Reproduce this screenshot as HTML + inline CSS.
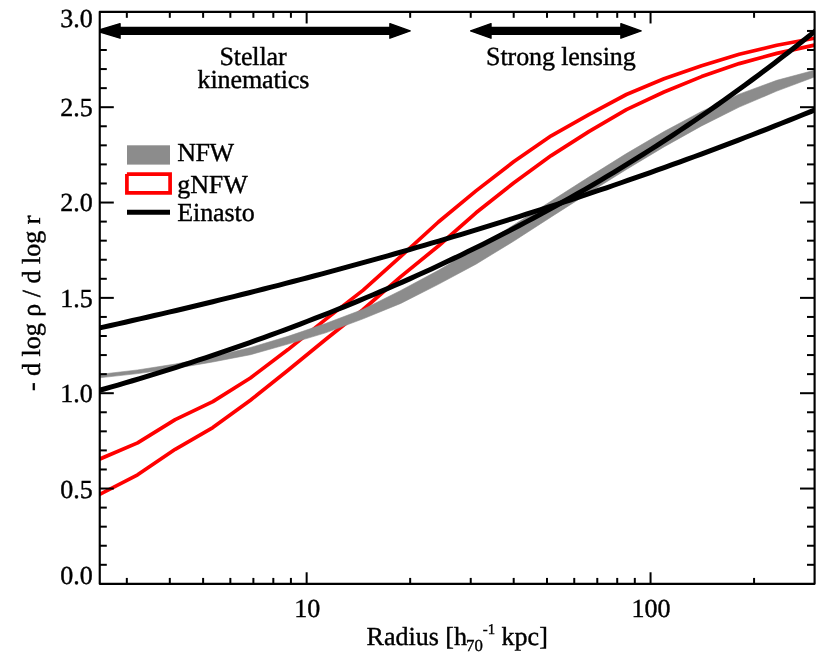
<!DOCTYPE html>
<html><head><meta charset="utf-8"><title>Density slope</title>
<style>html,body{margin:0;padding:0;background:#fff;}svg{display:block;will-change:transform;}text{font-family:"Liberation Serif",serif;font-size:26px;fill:#000;stroke:#000;stroke-width:0.4px;text-rendering:geometricPrecision;}</style></head><body>
<svg width="830" height="664" viewBox="0 0 830 664">
<rect width="830" height="664" fill="#fff"/>
<defs><clipPath id="c"><rect x="99.75" y="11.87" width="714.85" height="572"/></clipPath></defs>
<g clip-path="url(#c)" fill="none" stroke-linejoin="round">
<polyline points="98.00,459.80 137.60,442.90 175.20,419.60 212.80,401.60 250.40,378.00 288.00,349.60 325.60,319.40 363.20,290.10 400.80,256.40 438.40,222.00 476.00,190.90 513.60,161.80 551.20,135.80 588.80,114.60 626.40,94.50 664.00,78.70 701.60,65.80 739.20,54.30 776.80,45.20 814.40,38.20" stroke="#ff0000" stroke-width="3.7"/>
<polyline points="98.00,495.30 137.60,474.80 175.20,449.30 212.80,427.60 250.40,400.20 288.00,370.30 325.60,339.50 363.20,309.50 400.80,276.60 438.40,246.00 476.00,212.80 513.60,183.00 551.20,155.60 588.80,131.60 626.40,109.60 664.00,92.00 701.60,76.60 739.20,63.60 776.80,53.40 814.40,45.10" stroke="#ff0000" stroke-width="3.7"/>
<polygon points="98.00,374.60 137.60,369.94 175.20,364.08 212.80,356.69 250.40,347.56 288.00,336.33 325.60,323.51 363.20,309.30 400.80,290.48 438.40,270.33 476.00,248.40 513.60,225.10 551.20,201.09 588.80,177.05 626.40,153.60 664.00,131.57 701.60,111.44 739.20,94.14 776.80,80.32 814.40,70.24 816.00,69.87 816.00,76.45 814.40,77.00 776.80,91.08 739.20,107.12 701.60,125.88 664.00,146.88 626.40,169.45 588.80,192.92 551.20,216.91 513.60,241.22 476.00,264.13 438.40,284.32 400.80,303.40 363.20,318.81 325.60,332.85 288.00,344.10 250.40,354.71 212.80,361.97 175.20,368.42 137.60,373.62 98.00,377.97" fill="#8c8c8c" stroke="#8c8c8c" stroke-width="0.6"/>
<polyline points="96.00,328.70 103.29,327.10 110.59,325.48 117.88,323.85 125.17,322.21 132.46,320.56 139.76,318.90 147.05,317.23 154.34,315.55 161.64,313.86 168.93,312.16 176.22,310.45 183.52,308.72 190.81,306.99 198.10,305.24 205.39,303.49 212.69,301.72 219.98,299.94 227.27,298.15 234.57,296.35 241.86,294.54 249.15,292.72 256.44,290.88 263.74,289.03 271.03,287.18 278.32,285.31 285.62,283.42 292.91,281.53 300.20,279.63 307.49,277.71 314.79,275.78 322.08,273.84 329.37,271.88 336.67,269.92 343.96,267.94 351.25,265.95 358.55,263.94 365.84,261.93 373.13,259.90 380.42,257.86 387.72,255.80 395.01,253.73 402.30,251.65 409.60,249.56 416.89,247.45 424.18,245.33 431.47,243.20 438.77,241.05 446.06,238.89 453.35,236.72 460.65,234.53 467.94,232.33 475.23,230.11 482.53,227.88 489.82,225.64 497.11,223.38 504.40,221.11 511.70,218.82 518.99,216.52 526.28,214.21 533.58,211.88 540.87,209.53 548.16,207.18 555.45,204.80 562.75,202.41 570.04,200.01 577.33,197.59 584.63,195.16 591.92,192.71 599.21,190.24 606.51,187.76 613.80,185.26 621.09,182.75 628.38,180.22 635.68,177.68 642.97,175.12 650.26,172.54 657.56,169.95 664.85,167.34 672.14,164.72 679.43,162.08 686.73,159.42 694.02,156.75 701.31,154.05 708.61,151.34 715.90,148.62 723.19,145.88 730.48,143.12 737.78,140.34 745.07,137.54 752.36,134.73 759.66,131.90 766.95,129.05 774.24,126.19 781.54,123.30 788.83,120.40 796.12,117.48 803.41,114.54 810.71,111.58 818.00,108.61" stroke="#000" stroke-width="5.0"/>
<polyline points="96.00,391.31 103.29,389.24 110.59,387.15 117.88,385.03 125.17,382.89 132.46,380.73 139.76,378.55 147.05,376.34 154.34,374.11 161.64,371.85 168.93,369.57 176.22,367.27 183.52,364.94 190.81,362.58 198.10,360.20 205.39,357.79 212.69,355.36 219.98,352.91 227.27,350.42 234.57,347.91 241.86,345.37 249.15,342.81 256.44,340.22 263.74,337.60 271.03,334.95 278.32,332.27 285.62,329.56 292.91,326.83 300.20,324.06 307.49,321.27 314.79,318.45 322.08,315.59 329.37,312.71 336.67,309.79 343.96,306.84 351.25,303.86 358.55,300.85 365.84,297.81 373.13,294.73 380.42,291.62 387.72,288.48 395.01,285.30 402.30,282.09 409.60,278.85 416.89,275.57 424.18,272.25 431.47,268.90 438.77,265.51 446.06,262.09 453.35,258.63 460.65,255.13 467.94,251.60 475.23,248.02 482.53,244.41 489.82,240.76 497.11,237.07 504.40,233.34 511.70,229.57 518.99,225.77 526.28,221.91 533.58,218.02 540.87,214.09 548.16,210.11 555.45,206.09 562.75,202.03 570.04,197.93 577.33,193.78 584.63,189.58 591.92,185.34 599.21,181.06 606.51,176.72 613.80,172.35 621.09,167.92 628.38,163.45 635.68,158.93 642.97,154.36 650.26,149.74 657.56,145.07 664.85,140.35 672.14,135.59 679.43,130.77 686.73,125.89 694.02,120.97 701.31,115.99 708.61,110.96 715.90,105.88 723.19,100.74 730.48,95.54 737.78,90.29 745.07,84.99 752.36,79.62 759.66,74.20 766.95,68.72 774.24,63.18 781.54,57.58 788.83,51.92 796.12,46.21 803.41,40.42 810.71,34.58 818.00,28.68" stroke="#000" stroke-width="5.0"/>
</g>
<defs><clipPath id="ca"><rect x="99.75" y="0" width="730" height="60"/></clipPath></defs>
<g clip-path="url(#ca)"><path d="M96.10,30.90 L120.05,23.60 L120.05,27.40 L389.90,27.40 L389.90,23.60 L410.15,30.90 L389.90,38.20 L389.90,34.40 L120.05,34.40 L120.05,38.20 Z" fill="#000" stroke="#000" stroke-width="1.4" stroke-linejoin="round"/><path d="M470.60,30.90 L491.00,23.60 L491.00,27.40 L620.90,27.40 L620.90,23.60 L641.10,30.90 L620.90,38.20 L620.90,34.40 L491.00,34.40 L491.00,38.20 Z" fill="#000" stroke="#000" stroke-width="1.4" stroke-linejoin="round"/></g>
<g stroke="#000" stroke-width="2.0" fill="none" stroke-linecap="butt">
<rect x="99.75" y="11.87" width="714.85" height="572.0" stroke-width="2.15" stroke-linejoin="round"/>
<line x1="126.83" y1="583.87" x2="126.83" y2="577.92"/>
<line x1="126.83" y1="11.87" x2="126.83" y2="17.82"/>
<line x1="169.80" y1="583.87" x2="169.80" y2="577.92"/>
<line x1="169.80" y1="11.87" x2="169.80" y2="17.82"/>
<line x1="203.12" y1="583.87" x2="203.12" y2="577.92"/>
<line x1="203.12" y1="11.87" x2="203.12" y2="17.82"/>
<line x1="230.35" y1="583.87" x2="230.35" y2="577.92"/>
<line x1="230.35" y1="11.87" x2="230.35" y2="17.82"/>
<line x1="253.38" y1="583.87" x2="253.38" y2="577.92"/>
<line x1="253.38" y1="11.87" x2="253.38" y2="17.82"/>
<line x1="273.32" y1="583.87" x2="273.32" y2="577.92"/>
<line x1="273.32" y1="11.87" x2="273.32" y2="17.82"/>
<line x1="290.91" y1="583.87" x2="290.91" y2="577.92"/>
<line x1="290.91" y1="11.87" x2="290.91" y2="17.82"/>
<line x1="306.65" y1="583.87" x2="306.65" y2="572.27"/>
<line x1="306.65" y1="11.87" x2="306.65" y2="23.47"/>
<line x1="410.17" y1="583.87" x2="410.17" y2="577.92"/>
<line x1="410.17" y1="11.87" x2="410.17" y2="17.82"/>
<line x1="470.73" y1="583.87" x2="470.73" y2="577.92"/>
<line x1="470.73" y1="11.87" x2="470.73" y2="17.82"/>
<line x1="513.70" y1="583.87" x2="513.70" y2="577.92"/>
<line x1="513.70" y1="11.87" x2="513.70" y2="17.82"/>
<line x1="547.02" y1="583.87" x2="547.02" y2="577.92"/>
<line x1="547.02" y1="11.87" x2="547.02" y2="17.82"/>
<line x1="574.25" y1="583.87" x2="574.25" y2="577.92"/>
<line x1="574.25" y1="11.87" x2="574.25" y2="17.82"/>
<line x1="597.28" y1="583.87" x2="597.28" y2="577.92"/>
<line x1="597.28" y1="11.87" x2="597.28" y2="17.82"/>
<line x1="617.22" y1="583.87" x2="617.22" y2="577.92"/>
<line x1="617.22" y1="11.87" x2="617.22" y2="17.82"/>
<line x1="634.81" y1="583.87" x2="634.81" y2="577.92"/>
<line x1="634.81" y1="11.87" x2="634.81" y2="17.82"/>
<line x1="650.55" y1="583.87" x2="650.55" y2="572.27"/>
<line x1="650.55" y1="11.87" x2="650.55" y2="23.47"/>
<line x1="754.07" y1="583.87" x2="754.07" y2="577.92"/>
<line x1="754.07" y1="11.87" x2="754.07" y2="17.82"/>
<line x1="99.75" y1="564.80" x2="106.8" y2="564.80"/>
<line x1="814.6" y1="564.80" x2="807.0" y2="564.80"/>
<line x1="99.75" y1="545.74" x2="106.8" y2="545.74"/>
<line x1="814.6" y1="545.74" x2="807.0" y2="545.74"/>
<line x1="99.75" y1="526.67" x2="106.8" y2="526.67"/>
<line x1="814.6" y1="526.67" x2="807.0" y2="526.67"/>
<line x1="99.75" y1="507.60" x2="106.8" y2="507.60"/>
<line x1="814.6" y1="507.60" x2="807.0" y2="507.60"/>
<line x1="99.75" y1="488.54" x2="113.8" y2="488.54"/>
<line x1="814.6" y1="488.54" x2="800.0" y2="488.54"/>
<line x1="99.75" y1="469.47" x2="106.8" y2="469.47"/>
<line x1="814.6" y1="469.47" x2="807.0" y2="469.47"/>
<line x1="99.75" y1="450.40" x2="106.8" y2="450.40"/>
<line x1="814.6" y1="450.40" x2="807.0" y2="450.40"/>
<line x1="99.75" y1="431.34" x2="106.8" y2="431.34"/>
<line x1="814.6" y1="431.34" x2="807.0" y2="431.34"/>
<line x1="99.75" y1="412.27" x2="106.8" y2="412.27"/>
<line x1="814.6" y1="412.27" x2="807.0" y2="412.27"/>
<line x1="99.75" y1="393.20" x2="113.8" y2="393.20"/>
<line x1="814.6" y1="393.20" x2="800.0" y2="393.20"/>
<line x1="99.75" y1="374.14" x2="106.8" y2="374.14"/>
<line x1="814.6" y1="374.14" x2="807.0" y2="374.14"/>
<line x1="99.75" y1="355.07" x2="106.8" y2="355.07"/>
<line x1="814.6" y1="355.07" x2="807.0" y2="355.07"/>
<line x1="99.75" y1="336.00" x2="106.8" y2="336.00"/>
<line x1="814.6" y1="336.00" x2="807.0" y2="336.00"/>
<line x1="99.75" y1="316.94" x2="106.8" y2="316.94"/>
<line x1="814.6" y1="316.94" x2="807.0" y2="316.94"/>
<line x1="99.75" y1="297.87" x2="113.8" y2="297.87"/>
<line x1="814.6" y1="297.87" x2="800.0" y2="297.87"/>
<line x1="99.75" y1="278.80" x2="106.8" y2="278.80"/>
<line x1="814.6" y1="278.80" x2="807.0" y2="278.80"/>
<line x1="99.75" y1="259.74" x2="106.8" y2="259.74"/>
<line x1="814.6" y1="259.74" x2="807.0" y2="259.74"/>
<line x1="99.75" y1="240.67" x2="106.8" y2="240.67"/>
<line x1="814.6" y1="240.67" x2="807.0" y2="240.67"/>
<line x1="99.75" y1="221.60" x2="106.8" y2="221.60"/>
<line x1="814.6" y1="221.60" x2="807.0" y2="221.60"/>
<line x1="99.75" y1="202.54" x2="113.8" y2="202.54"/>
<line x1="814.6" y1="202.54" x2="800.0" y2="202.54"/>
<line x1="99.75" y1="183.47" x2="106.8" y2="183.47"/>
<line x1="814.6" y1="183.47" x2="807.0" y2="183.47"/>
<line x1="99.75" y1="164.40" x2="106.8" y2="164.40"/>
<line x1="814.6" y1="164.40" x2="807.0" y2="164.40"/>
<line x1="99.75" y1="145.34" x2="106.8" y2="145.34"/>
<line x1="814.6" y1="145.34" x2="807.0" y2="145.34"/>
<line x1="99.75" y1="126.27" x2="106.8" y2="126.27"/>
<line x1="814.6" y1="126.27" x2="807.0" y2="126.27"/>
<line x1="99.75" y1="107.20" x2="113.8" y2="107.20"/>
<line x1="814.6" y1="107.20" x2="800.0" y2="107.20"/>
<line x1="99.75" y1="88.14" x2="106.8" y2="88.14"/>
<line x1="814.6" y1="88.14" x2="807.0" y2="88.14"/>
<line x1="99.75" y1="69.07" x2="106.8" y2="69.07"/>
<line x1="814.6" y1="69.07" x2="807.0" y2="69.07"/>
<line x1="99.75" y1="50.00" x2="106.8" y2="50.00"/>
<line x1="814.6" y1="50.00" x2="807.0" y2="50.00"/>
<line x1="99.75" y1="30.94" x2="106.8" y2="30.94"/>
<line x1="814.6" y1="30.94" x2="807.0" y2="30.94"/>
</g>
<text x="92.7" y="26.8" text-anchor="end" stroke-width="0.5">3.0</text>
<text x="92.7" y="116.0" text-anchor="end" stroke-width="0.5">2.5</text>
<text x="92.7" y="211.4" text-anchor="end" stroke-width="0.5">2.0</text>
<text x="92.7" y="306.8" text-anchor="end" stroke-width="0.5">1.5</text>
<text x="92.7" y="402.0" text-anchor="end" stroke-width="0.5">1.0</text>
<text x="92.7" y="497.5" text-anchor="end" stroke-width="0.5">0.5</text>
<text x="92.7" y="583.8" text-anchor="end" stroke-width="0.5">0.0</text>
<text x="307.3" y="616.6" text-anchor="middle" stroke-width="0.5">10</text>
<text x="651.0" y="616.6" text-anchor="middle" stroke-width="0.5">100</text>
<text x="366.6" y="644.6">Radius [h<tspan font-size="16.8px" dx="-1" dy="6.4" stroke-width="0.35">70</tspan><tspan font-size="14.8px" dy="-17.2" stroke-width="0.35">-1</tspan><tspan dy="10.8"> kpc]</tspan></text>
<text transform="translate(40.1,303.3) rotate(-90)" text-anchor="middle">- d log ρ / d log r</text>
<text x="253.0" y="64.9" text-anchor="middle" letter-spacing="-0.1">Stellar</text>
<text x="253.4" y="87.5" text-anchor="middle" letter-spacing="-0.1">kinematics</text>
<text x="486.1" y="65.2" letter-spacing="-0.1">Strong lensing</text>
<rect x="127" y="145.3" width="43" height="19.3" fill="#8c8c8c"/>
<path d="M126.9,174.1 L170.1,174.1 L170.1,192.9 L126.9,192.9 L126.9,174.1" fill="none" stroke="#ff0000" stroke-width="3.7" stroke-linejoin="miter" stroke-linecap="butt"/>
<line x1="127" y1="212.2" x2="170" y2="212.2" stroke="#000" stroke-width="5"/>
<text x="177.3" y="160.5" letter-spacing="-0.5">NFW</text>
<text x="177.3" y="192.6" letter-spacing="-0.1">gNFW</text>
<text x="177.3" y="220.6" letter-spacing="-0.1">Einasto</text>
</svg></body></html>
